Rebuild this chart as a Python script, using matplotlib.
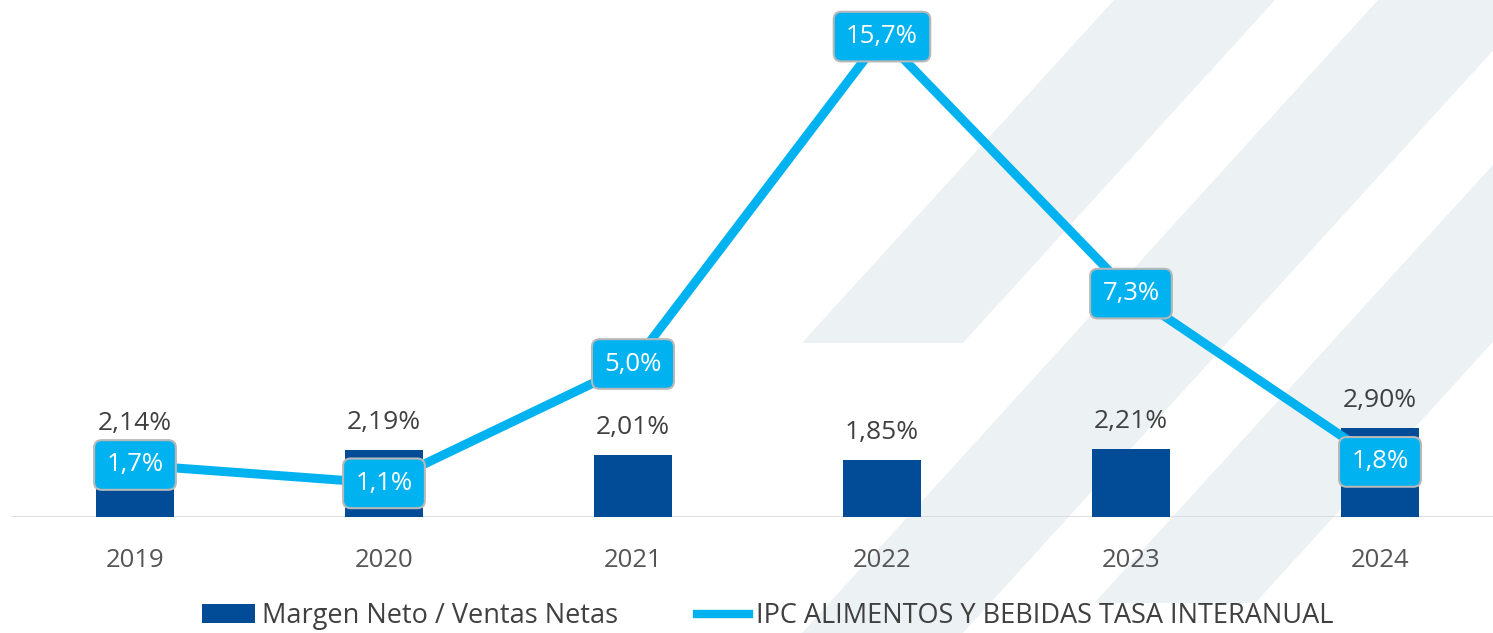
import matplotlib
matplotlib.use("Agg")
import matplotlib.pyplot as plt
from matplotlib.patches import Polygon, Patch
from matplotlib.lines import Line2D

plt.rcParams['font.family'] = ['Open Sans', 'DejaVu Sans']

# data
years = ['2019', '2020', '2021', '2022', '2023', '2024']
margen = [2.14, 2.19, 2.01, 1.85, 2.21, 2.90]
ipc = [1.7, 1.1, 5.0, 15.7, 7.3, 1.8]

bar_color = '#024C97'
line_color = '#00B2EF'
text_color = '#404040'

W, H = 1493, 633
fig = plt.figure(figsize=(W / 100, H / 100), dpi=100)

# decorative diagonal bands in the background (pixel coords, y from top)
bg = fig.add_axes([0, 0, 1, 1], zorder=0)
bg.set_xlim(0, W)
bg.set_ylim(H, 0)
bg.axis('off')

def band(x_top, y_end, width=161, slope=0.91):
    pts = [(x_top, 0), (x_top + width, 0),
           (x_top + width - slope * y_end, y_end), (x_top - slope * y_end, y_end)]
    bg.add_patch(Polygon(pts, closed=True, facecolor='#ECF1F4', edgecolor='none'))

band(1114, 343)
band(1378, 633)
band(1643, 603)

ax = fig.add_axes([0, (H - 517) / H, 1, 517 / H], zorder=1)
ax.patch.set_alpha(0)
x = list(range(len(years)))

ax.bar(x, margen, width=0.313, color=bar_color, zorder=2)
ax.plot(x, ipc, color=line_color, lw=6.5, solid_capstyle='butt', zorder=3)

for i, v in enumerate(margen):
    ax.annotate(f"{v:.2f}%".replace('.', ','), (i, v), xytext=(0, 20),
                textcoords='offset points', ha='center', va='center',
                fontsize=19, color=text_color, zorder=5)

for i, v in enumerate(ipc):
    ax.text(i, v, f"{v:.1f}%".replace('.', ','), ha='center', va='center',
            fontsize=18.5, color='white', zorder=6,
            bbox=dict(boxstyle='round,pad=0.48,rounding_size=0.3',
                      facecolor=line_color, edgecolor='#B8B8B8', lw=1.5))

ax.set_xlim(-135 / 249, (W - 135) / 249)
ax.set_ylim(0, 517 / 30.6)
ax.axhline(0, xmin=12 / W, xmax=1, color='#D6D6D6', lw=1.8, zorder=1)

ax.set_xticks(x)
ax.set_xticklabels(years, fontsize=18.5, color='#555555')
ax.tick_params(axis='x', length=0, pad=22)
ax.set_yticks([])
for s in ax.spines.values():
    s.set_visible(False)

handles = [Patch(facecolor=bar_color, edgecolor='none'),
           Line2D([], [], color=line_color, lw=6)]
labels = ['Margen Neto / Ventas Netas', 'IPC ALIMENTOS Y BEBIDAS TASA INTERANUAL']
leg = fig.legend(handles, labels, loc='center', bbox_to_anchor=(768 / W, 1 - 616 / H),
                 ncol=2, frameon=False, fontsize=19.5, handlelength=1.95,
                 handleheight=0.7, handletextpad=0.25, columnspacing=2.9,
                 borderaxespad=0, borderpad=0)
for t in leg.get_texts():
    t.set_color(text_color)

fig.savefig('out.png', dpi=100, facecolor='white')
